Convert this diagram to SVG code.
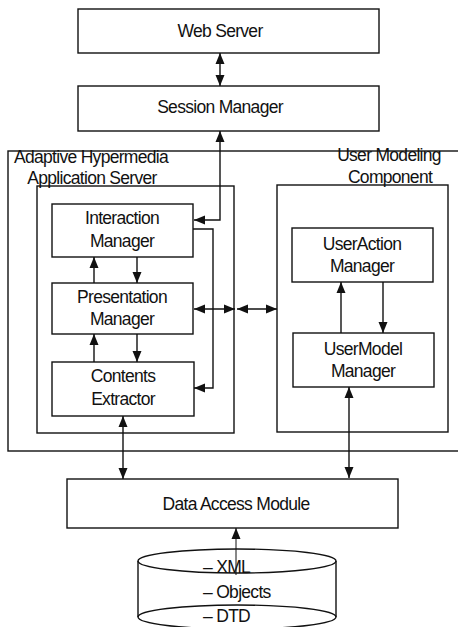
<svg xmlns="http://www.w3.org/2000/svg" width="458" height="627" viewBox="0 0 458 627">
<style>
.box{fill:#fff;stroke:#111;stroke-width:1.4}
.frame{fill:none;stroke:#111;stroke-width:1.4}
.t{font-family:"Liberation Sans",Arial,sans-serif;font-size:17.5px;fill:#111;text-anchor:middle;letter-spacing:-0.7px}
.tl{font-family:"Liberation Sans",Arial,sans-serif;font-size:17.5px;fill:#111;letter-spacing:-0.7px}
.c{fill:none;stroke:#111;stroke-width:1.4}
.cd{marker-start:url(#ah);marker-end:url(#ah)}
.ce{marker-end:url(#ah)}
</style>
<defs>
<marker id="ah" markerUnits="userSpaceOnUse" markerWidth="11" markerHeight="10" refX="11" refY="5" orient="auto-start-reverse">
<path d="M0,0.5 L11,5 L0,9.5 z" fill="#111"/>
</marker>
</defs>
<g id="outer-frame"><rect class="frame" x="8" y="151" width="470" height="300"/></g>
<g id="web-server"><rect class="box" x="78" y="9" width="301" height="44"/><text class="t" x="220" y="37">Web Server</text></g>
<g id="session-manager"><rect class="box" x="78" y="86" width="301" height="45"/><text class="t" x="220" y="113">Session Manager</text></g>
<g id="ahas"><rect class="frame" x="37" y="186" width="197" height="247"/><text class="t" x="91" y="163">Adaptive Hypermedia</text><text class="t" x="92" y="184">Application Server</text></g>
<g id="interaction-manager"><rect class="box" x="52" y="204" width="141" height="53"/><text class="t" x="122" y="224">Interaction</text><text class="t" x="122" y="247">Manager</text></g>
<g id="presentation-manager"><rect class="box" x="52" y="283" width="141" height="51"/><text class="t" x="122" y="303">Presentation</text><text class="t" x="122" y="325">Manager</text></g>
<g id="contents-extractor"><rect class="box" x="52" y="362" width="142" height="54"/><text class="t" x="123" y="382">Contents</text><text class="t" x="123" y="405">Extractor</text></g>
<g id="user-modeling-component"><rect class="frame" x="277" y="185" width="171" height="247"/><text class="t" x="389" y="161">User Modeling</text><text class="t" x="390" y="183">Component</text></g>
<g id="useraction-manager"><rect class="box" x="292" y="228" width="141" height="54"/><text class="t" x="362" y="250">UserAction</text><text class="t" x="362" y="272">Manager</text></g>
<g id="usermodel-manager"><rect class="box" x="293" y="333" width="141" height="54"/><text class="t" x="363" y="355">UserModel</text><text class="t" x="363" y="377">Manager</text></g>
<g id="data-access-module"><rect class="box" x="67" y="479" width="331" height="49"/><text class="t" x="236" y="510">Data Access Module</text></g>
<g id="database">
<path class="frame" d="M138,561 V617 M336,561 V617"/>
<ellipse class="frame" cx="237" cy="561" rx="99" ry="12"/>
<ellipse class="frame" cx="237" cy="617" rx="99" ry="12"/>
<text class="tl" x="203" y="573">– XML</text>
<text class="tl" x="203" y="598">– Objects</text>
<text class="tl" x="203" y="622">– DTD</text>
</g>
<g id="connectors">
<path class="c cd" d="M220,53 V86"/>
<path class="c cd" d="M220,131 V220 H194"/>
<path class="c ce" d="M193,229 H213 V388 H194"/>
<path class="c ce" d="M94,283 V257"/>
<path class="c ce" d="M137,257 V283"/>
<path class="c ce" d="M94,362 V334"/>
<path class="c ce" d="M137,334 V362"/>
<path class="c cd" d="M194,309 H235"/>
<path class="c cd" d="M237,309 H277"/>
<path class="c ce" d="M341,333 V282"/>
<path class="c ce" d="M383,282 V333"/>
<path class="c cd" d="M123,416 V479"/>
<path class="c cd" d="M349,387 V478"/>
<path class="c ce" style="stroke-width:1" d="M236,575 V528"/>
</g>
</svg>
